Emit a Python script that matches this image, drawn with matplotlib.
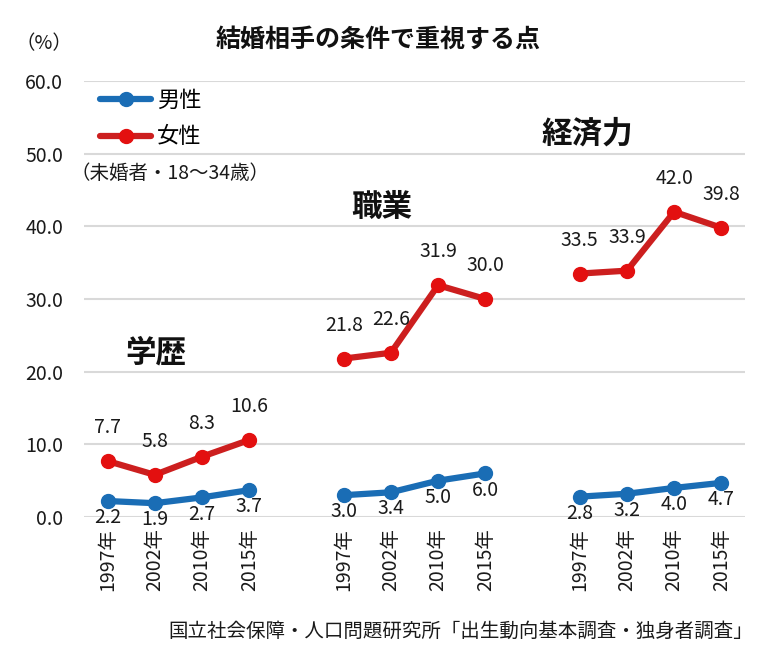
import matplotlib
matplotlib.use("Agg")
import matplotlib.pyplot as plt
import numpy as np

plt.rcParams['font.family'] = ['Noto Sans CJK JP', 'DejaVu Sans']

years = ["1997年", "2002年", "2010年", "2015年"]
groups = ["学歴", "職業", "経済力"]
male = [[2.2, 1.9, 2.7, 3.7], [3.0, 3.4, 5.0, 6.0], [2.8, 3.2, 4.0, 4.7]]
female = [[7.7, 5.8, 8.3, 10.6], [21.8, 22.6, 31.9, 30.0], [33.5, 33.9, 42.0, 39.8]]
yticks = [0, 10, 20, 30, 40, 50, 60]

blue = "#1a6db5"
red_line = "#cc1f1f"
red_mark = "#e31010"
txt = "#1a1a1a"

fig = plt.figure(figsize=(7.64, 6.53), dpi=100)
ax = fig.add_axes([84 / 764, 1 - 517 / 653, (745 - 84) / 764, (517 - 81) / 653])

xt, xl = [], []
for g in range(len(groups)):
    xs = np.arange(len(years)) + g * 5
    ax.plot(xs, male[g], color=blue, lw=4.5, marker='o', ms=10,
            mfc=blue, mec=blue, solid_capstyle='round', zorder=3,
            label="男性" if g == 0 else None)
    ax.plot(xs, female[g], color=red_line, lw=4.5, marker='o', ms=10,
            mfc=red_mark, mec=red_mark, solid_capstyle='round', zorder=3,
            label="女性" if g == 0 else None)
    for x, v in zip(xs, male[g]):
        ax.annotate(f"{v:.1f}", (x, v), xytext=(0, -12), textcoords='offset points',
                    ha='center', va='center', fontsize=14, color=txt, zorder=4)
    for x, v in zip(xs, female[g]):
        ax.annotate(f"{v:.1f}", (x, v), xytext=(0, 24), textcoords='offset points',
                    ha='center', va='center', fontsize=14, color=txt, zorder=4)
    xt += list(xs)
    xl += years

ax.set_xlim(-0.5, 13.5)
ax.set_ylim(0, 60)
ax.set_yticks(yticks)
ax.set_yticklabels([f"{v:.1f}" for v in yticks], fontsize=14, color=txt)
ax.set_xticks(xt)
ax.set_xticklabels(xl, rotation=90, fontsize=14, color=txt)
ax.tick_params(axis='both', length=0)
ax.tick_params(axis='y', pad=15)
ax.tick_params(axis='x', pad=8)
ax.grid(axis='y', color='#d9d9d9', lw=1.5, zorder=0)
ax.set_axisbelow(True)
for s in ax.spines.values():
    s.set_visible(False)

# category labels
ax.text(1.02, 22.7, groups[0], ha='center', va='center', fontsize=22, fontweight='bold', color='#111111')
ax.text(5.8, 42.7, groups[1], ha='center', va='center', fontsize=22, fontweight='bold', color='#111111')
ax.text(10.15, 52.8, groups[2], ha='center', va='center', fontsize=22, fontweight='bold', color='#111111')

ax.legend(loc='upper left', bbox_to_anchor=(100 / 764, 1 - 89 / 653),
          bbox_transform=fig.transFigure, frameon=False, fontsize=16,
          handlelength=2.3, handletextpad=0.25, labelspacing=0.6, borderaxespad=0,
          borderpad=0)

fig.text(71 / 764, 1 - 173 / 653, "（未婚者・18〜34歳）", ha='left', va='center', fontsize=14, color=txt)
fig.text(44 / 764, 1 - 44 / 653, "（%）", ha='center', va='center', fontsize=14, color=txt)
fig.text(378 / 764, 1 - 40 / 653, "結婚相手の条件で重視する点", ha='center', va='center',
         fontsize=18, fontweight='bold', color='#111111')
fig.text(753 / 764, 1 - 631 / 653, "国立社会保障・人口問題研究所「出生動向基本調査・独身者調査」",
         ha='right', va='center', fontsize=14, color=txt)

fig.savefig("out.png", dpi=100, facecolor='white')
